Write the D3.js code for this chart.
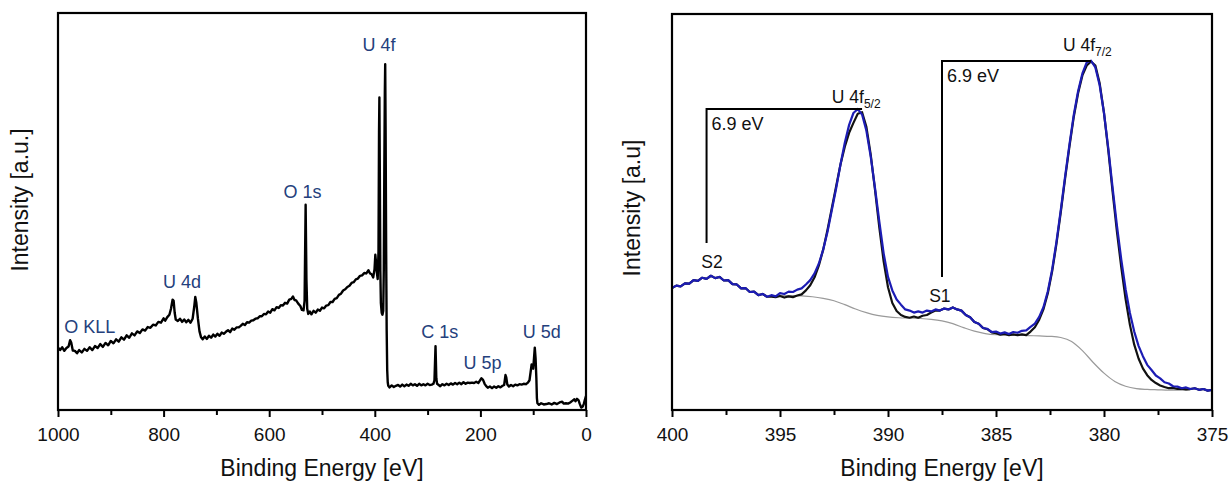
<!DOCTYPE html>
<html>
<head>
<meta charset="utf-8">
<script src="https://cdn.jsdelivr.net/npm/d3@7"></script>
<style>
  html, body { margin: 0; padding: 0; background: #fff; }
  svg { display: block; font-family: Arial, "Liberation Sans", sans-serif; }
</style>
</head>
<body>
<svg id="chart" width="1229" height="484"></svg>
<script>
// ---------- Survey spectrum (left panel) ----------
const surveyBE = [
  1000, 996, 992, 988, 984, 980, 977, 975, 972, 968, 964, 960, 955, 950, 945, 940, 935, 930, 925, 920,
  915, 910, 905, 900, 895, 890, 885, 880, 875, 870, 865, 860, 855, 850, 845, 840, 835, 830, 825, 820,
  815, 810, 805, 800, 797, 793, 789, 786, 783, 781, 779, 777, 773, 769, 765, 761, 757, 753, 749, 745,
  742, 740, 738, 735, 732, 729, 726, 722, 718, 714, 710, 706, 702, 698, 694, 690, 686, 682, 678, 674,
  670, 666, 662, 658, 654, 650, 646, 642, 638, 634, 630, 626, 622, 618, 614, 610, 606, 602, 598, 594,
  590, 586, 582, 578, 574, 570, 566, 562, 558, 555, 552, 549, 545, 541, 538, 535, 533, 531, 529.5, 528,
  526, 523, 520, 516, 512, 508, 504, 500, 496, 492, 488, 484, 480, 476, 472, 468, 464, 460, 456, 452,
  448, 444, 440, 436, 432, 428, 424, 420, 416, 412, 409, 406, 403, 400.5, 399, 397.5, 396, 394.5, 393, 392,
  391.3, 390.5, 389.5, 388.5, 387, 385.5, 384, 383, 382, 381, 380.3, 379.5, 378.5, 377.5, 376.5, 375.5, 374.5, 372, 368, 364,
  360, 356, 352, 348, 344, 340, 336, 332, 328, 324, 320, 316, 312, 308, 304, 300, 296, 292, 289, 287,
  285, 283.5, 282, 279, 276, 272, 268, 264, 260, 256, 252, 248, 244, 240, 236, 232, 228, 224, 220, 216,
  212, 208, 204, 201, 198, 195, 192, 189, 186, 182, 178, 174, 170, 166, 162, 158, 155, 152.5, 151, 149,
  146, 142, 138, 134, 130, 126, 122, 118, 114, 110, 107, 105, 103, 101.5, 100, 98.5, 97, 95.5, 94, 93,
  92, 89, 85, 80, 75, 70, 65, 60, 55, 50, 45, 42, 38, 34, 30, 26, 22, 20, 17, 14,
  12, 9, 6, 4, 2, 0
];
const surveyCounts = [
  15.7, 15.1, 15.8, 14.9, 15.6, 16.0, 17.6, 17.0, 15.0, 14.9, 14.3, 15.1, 14.5, 15.4, 14.9, 15.8, 15.1, 16.1, 15.6, 16.6,
  15.9, 16.9, 16.3, 17.4, 16.8, 17.8, 17.2, 18.3, 17.7, 18.8, 18.2, 19.3, 18.8, 19.8, 19.4, 20.3, 20.0, 20.9, 20.7, 21.5,
  21.3, 22.2, 22.0, 23.1, 22.5, 23.4, 24.0, 25.5, 27.8, 27.5, 24.5, 22.8, 22.4, 23.0, 22.2, 22.8, 22.1, 22.7, 22.0, 23.0,
  26.0, 28.5, 27.0, 23.0, 19.8, 18.3, 17.8, 18.5, 17.9, 18.7, 18.2, 19.0, 18.5, 19.2, 18.7, 19.5, 19.2, 19.7, 20.1, 19.6,
  20.5, 20.2, 20.8, 20.8, 21.2, 21.7, 21.4, 22.1, 22.0, 22.5, 22.6, 23.0, 23.1, 23.6, 23.6, 24.2, 24.1, 24.8, 24.5, 25.4,
  25.1, 25.9, 25.7, 26.4, 26.3, 27.0, 26.8, 27.8, 28.0, 28.6, 27.7, 27.6, 26.8, 26.2, 25.2, 25.1, 27.5, 51.7, 33.0, 25.5,
  24.2, 24.8, 24.1, 25.0, 24.5, 25.3, 25.0, 25.8, 25.6, 26.3, 26.4, 27.2, 27.2, 28.0, 28.2, 29.0, 29.3, 30.1, 30.4, 31.0,
  31.3, 32.0, 32.2, 32.9, 33.1, 33.8, 33.9, 34.5, 34.4, 35.2, 34.4, 34.2, 33.4, 35.5, 39.1, 37.0, 34.5, 33.0, 40.0, 70.0,
  78.7, 60.0, 35.0, 27.0, 24.5, 24.0, 25.0, 35.0, 60.0, 80.0, 87.1, 70.0, 40.0, 20.0, 10.0, 7.0, 6.1, 5.7, 6.2, 5.8,
  6.1, 6.3, 5.9, 6.4, 6.0, 6.4, 6.1, 6.6, 6.2, 6.5, 6.1, 6.6, 6.2, 6.5, 6.2, 6.6, 6.3, 6.4, 6.6, 7.5,
  16.1, 8.0, 6.6, 6.3, 6.0, 6.5, 6.2, 6.6, 6.3, 6.7, 6.4, 6.8, 6.5, 6.9, 6.5, 7.0, 6.6, 6.9, 6.8, 6.9,
  6.8, 7.1, 6.8, 7.4, 8.0, 7.6, 6.6, 6.0, 5.6, 5.9, 5.5, 5.9, 5.6, 6.0, 5.7, 6.1, 6.3, 8.8, 8.2, 6.4,
  5.9, 6.3, 6.0, 6.4, 6.2, 6.5, 6.4, 6.6, 6.5, 6.9, 7.5, 9.5, 11.5, 10.6, 10.4, 13.0, 15.7, 13.0, 8.0, 3.0,
  1.7, 1.3, 1.7, 1.4, 1.5, 1.7, 1.4, 1.8, 1.5, 1.9, 2.1, 1.6, 1.7, 1.6, 1.9, 2.3, 2.7, 2.2, 2.8, 2.4,
  1.6, 0.6, 0.9, 1.6, 2.6, 3.5
];
const surveyTicks = [1000, 800, 600, 400, 200, 0];
const surveyMinorTicks = [900, 700, 500, 300, 100];
const surveyLabels = [
  { text: "U 4f",  be: 392, y: 91.9 },
  { text: "O 1s",  be: 537, y: 55.0 },
  { text: "U 4d",  be: 765, y: 32.2 },
  { text: "O KLL", be: 940, y: 21.1 },
  { text: "C 1s",  be: 277, y: 19.7 },
  { text: "U 5p",  be: 196, y: 11.9 },
  { text: "U 5d",  be: 84,  y: 19.7 }
];

// ---------- U 4f core level (right panel) ----------
const coreBE = [
  400.0, 399.8, 399.6, 399.4, 399.2, 399.0, 398.8, 398.6, 398.4, 398.2,
  398.0, 397.8, 397.6, 397.4, 397.2, 397.0, 396.8, 396.6, 396.4, 396.2,
  396.0, 395.8, 395.6, 395.4, 395.2, 395.0, 394.8, 394.6, 394.4, 394.2,
  394.0, 393.8, 393.6, 393.4, 393.2, 393.0, 392.8, 392.6, 392.4, 392.2,
  392.0, 391.8, 391.6, 391.4, 391.2, 391.0, 390.8, 390.6, 390.4, 390.2,
  390.0, 389.8, 389.6, 389.4, 389.2, 389.0, 388.8, 388.6, 388.4, 388.2,
  388.0, 387.8, 387.6, 387.4, 387.2, 387.0, 386.8, 386.6, 386.4, 386.2,
  386.0, 385.8, 385.6, 385.4, 385.2, 385.0, 384.8, 384.6, 384.4, 384.2,
  384.0, 383.8, 383.6, 383.4, 383.2, 383.0, 382.8, 382.6, 382.4, 382.2,
  382.0, 381.8, 381.6, 381.4, 381.2, 381.0, 380.8, 380.6, 380.4, 380.2,
  380.0, 379.8, 379.6, 379.4, 379.2, 379.0, 378.8, 378.6, 378.4, 378.2,
  378.0, 377.8, 377.6, 377.4, 377.2, 377.0, 376.8, 376.6, 376.4, 376.2,
  376.0, 375.8, 375.6, 375.4, 375.2, 375.0
];
// envelope (blue)
const coreEnvelope = [
  30.8, 31.4, 31.2, 32.0, 31.9, 32.8, 32.6, 33.4, 33.1, 33.9,
  33.3, 33.6, 32.7, 32.8, 31.8, 31.7, 30.7, 30.8, 29.8, 29.9,
  29.0, 29.3, 28.6, 29.0, 28.7, 29.5, 29.3, 29.9, 29.8, 30.4,
  30.7, 31.7, 32.8, 34.5, 37.0, 40.5, 45.0, 50.5, 56.0, 62.0,
  67.5, 72.0, 75.0, 76.0, 74.6, 70.5, 64.0, 56.0, 47.5, 39.5,
  33.6, 30.2, 27.9, 26.6, 25.4, 25.1, 24.6, 24.9, 24.6, 25.1,
  24.9, 25.4, 25.1, 25.6, 25.4, 25.9, 25.4, 25.1, 24.0, 23.4,
  22.2, 21.8, 20.7, 20.5, 19.7, 19.8, 19.3, 19.6, 19.2, 19.7,
  19.5, 20.0, 20.1, 21.0, 21.8, 23.5, 26.0, 30.0, 35.5, 42.5,
  50.5, 59.0, 67.0, 74.5, 80.5, 85.0, 87.8, 88.2, 86.5, 82.0,
  75.0, 66.0, 56.0, 46.5, 38.0, 30.5, 24.5, 19.8, 16.2, 13.6,
  11.4, 10.1, 8.7, 8.0, 7.0, 6.7, 6.0, 5.9, 5.5, 5.7,
  5.3, 5.5, 5.1, 5.3, 4.9, 5.1
];
// measured spectrum (black)
const coreMeasured = [
  30.8, 31.4, 31.2, 32.0, 31.9, 32.8, 32.6, 33.4, 33.1, 33.9,
  33.3, 33.6, 32.7, 32.8, 31.8, 31.7, 30.7, 30.8, 29.8, 29.9,
  29.0, 29.3, 28.6, 28.6, 28.5, 28.8, 28.4, 28.7, 28.5, 28.9,
  29.2, 30.2, 31.5, 33.5, 36.5, 40.5, 45.5, 51.0, 56.5, 62.0,
  66.5, 70.0, 72.5, 74.8, 75.2, 71.5, 64.5, 55.5, 46.0, 37.5,
  31.0, 27.0, 25.0, 24.0, 23.5, 23.3, 23.6, 23.3, 23.8, 24.0,
  24.6, 25.1, 25.1, 25.6, 25.4, 25.9, 25.4, 25.1, 24.0, 23.4,
  22.2, 21.8, 20.7, 20.4, 19.6, 19.4, 19.0, 19.2, 18.9, 19.1,
  18.9, 19.1, 18.9, 19.8, 20.9, 22.8, 25.5, 29.5, 35.0, 42.0,
  50.0, 58.5, 66.5, 74.0, 80.0, 84.5, 87.0, 88.0, 87.0, 82.5,
  75.0, 65.5, 55.0, 45.0, 36.0, 28.0, 21.5, 16.5, 13.0, 10.5,
  8.8, 7.6, 6.8, 6.2, 5.8, 5.5, 5.6, 5.3, 5.4, 5.2,
  5.3, 5.5, 5.1, 5.3, 4.9, 5.1
];
// Shirley background (grey)
const shirleyBE = [
  395.4, 395.0, 394.5, 394.0, 393.5, 393.0, 392.5, 392.0, 391.5, 391.0,
  390.5, 390.0, 389.5, 389.0, 388.5, 388.0, 387.5, 387.0, 386.5, 386.0,
  385.5, 385.0, 384.5, 384.0, 383.5, 383.0, 382.5, 382.0, 381.5, 381.0,
  380.5, 380.0, 379.5, 379.0, 378.5, 378.0, 377.5, 377.0, 376.0
];
const shirleyCounts = [
  28.9, 28.9, 28.9, 28.8, 28.6, 28.2, 27.6, 26.6, 25.5, 24.6,
  23.9, 23.5, 23.3, 23.2, 23.1, 22.9, 22.5, 21.8, 20.8, 19.9,
  19.3, 19.0, 18.9, 18.9, 18.8, 18.7, 18.6, 18.3, 17.3, 15.0,
  12.0, 9.3, 7.2, 6.0, 5.4, 5.2, 5.1, 5.0, 5.0
];
const coreTicks = [400, 395, 390, 385, 380, 375];
const coreMinorTicks = [397.5, 392.5, 387.5, 382.5, 377.5];
const splitMarks = [
  { left: 398.4, right: 391.2, top: 76.0, bottom: 42.2, text: "6.9 eV" },
  { left: 387.5, right: 380.6, top: 88.1, bottom: 33.6, text: "6.9 eV" }
];
const coreLabels = [
  { main: "U 4f", sub: "5/2", be: 392.6, y: 79.0, anchor: "start" },
  { main: "U 4f", sub: "7/2", be: 381.9, y: 92.2, anchor: "start" },
  { main: "S2",   sub: "",    be: 398.15, y: 37.4, anchor: "middle" },
  { main: "S1",   sub: "",    be: 387.6, y: 28.8, anchor: "middle" }
];

// ---------- drawing ----------
const svg = d3.select("#chart");

function drawFrame(opts) {
  const g = svg.append("g");
  const x = d3.scaleLinear().domain(opts.xDomain).range([opts.left, opts.right]);
  const y = d3.scaleLinear().domain([0, 100]).range([opts.bottom, opts.top]);

  const minor = d3.axisBottom(x).tickValues(opts.minorTicks).tickSize(5).tickFormat("");
  g.append("g").attr("transform", `translate(0,${opts.bottom})`).call(minor)
    .call(s => s.select(".domain").remove())
    .call(s => s.selectAll("line").attr("stroke", "#000").attr("stroke-width", 2));

  const major = d3.axisBottom(x).tickValues(opts.ticks).tickSize(7).tickPadding(11)
    .tickFormat(d3.format("d"));
  g.append("g").attr("transform", `translate(0,${opts.bottom})`).call(major)
    .call(s => s.select(".domain").remove())
    .call(s => s.selectAll("line").attr("stroke", "#000").attr("stroke-width", 2))
    .call(s => s.selectAll("text").attr("fill", "#111").style("font-size", "19px")
      .style("font-family", "Arial, 'Liberation Sans', sans-serif"));

  g.append("text")
    .attr("x", (opts.left + opts.right) / 2).attr("y", opts.bottom + 66)
    .attr("text-anchor", "middle").attr("fill", "#111")
    .style("font-size", "23px").text("Binding Energy [eV]");

  g.append("text")
    .attr("transform", `translate(${opts.yLabelX},${opts.yLabelY}) rotate(-90)`)
    .attr("text-anchor", "middle").attr("fill", "#111")
    .style("font-size", "23px").text(opts.yTitle);

  const clipId = opts.id + "-clip";
  svg.append("clipPath").attr("id", clipId).append("rect")
    .attr("x", opts.left).attr("y", opts.top)
    .attr("width", opts.right - opts.left).attr("height", opts.bottom - opts.top);
  const plot = g.append("g").attr("clip-path", `url(#${clipId})`);

  return { g, plot, x, y, opts };
}

function drawBorder(p) {
  const o = p.opts;
  p.g.append("rect")
    .attr("x", o.left).attr("y", o.top)
    .attr("width", o.right - o.left).attr("height", o.bottom - o.top)
    .attr("fill", "none").attr("stroke", "#000").attr("stroke-width", 2.2);
}

// Left: survey
const survey = drawFrame({
  id: "survey", xDomain: [1000, 0], left: 58, right: 586, top: 13, bottom: 410,
  ticks: surveyTicks, minorTicks: surveyMinorTicks,
  yTitle: "Intensity [a.u.]", yLabelX: 28, yLabelY: 200
});
const surveyLine = d3.line()
  .x((d, i) => survey.x(surveyBE[i]))
  .y(d => survey.y(d));
survey.plot.append("path").datum(surveyCounts)
  .attr("d", surveyLine).attr("fill", "none")
  .attr("stroke", "#000").attr("stroke-width", 2.4).attr("stroke-linejoin", "round");
drawBorder(survey);
survey.g.selectAll("text.peak").data(surveyLabels).join("text")
  .attr("class", "peak")
  .attr("x", d => survey.x(d.be)).attr("y", d => survey.y(d.y))
  .attr("dy", "0.35em").attr("text-anchor", "middle")
  .attr("fill", "#24407c").style("font-size", "18px")
  .text(d => d.text);

// Right: U 4f detail
const core = drawFrame({
  id: "core", xDomain: [400, 375], left: 672, right: 1212, top: 14, bottom: 410,
  ticks: coreTicks, minorTicks: coreMinorTicks,
  yTitle: "Intensity [a.u]", yLabelX: 640, yLabelY: 208
});
const bgLine = d3.line().x((d, i) => core.x(shirleyBE[i])).y(d => core.y(d)).curve(d3.curveMonotoneX);
core.plot.append("path").datum(shirleyCounts)
  .attr("d", bgLine).attr("fill", "none").attr("stroke", "#9a9a9a").attr("stroke-width", 1.2);
const coreLine = d3.line().x((d, i) => core.x(coreBE[i])).y(d => core.y(d));
core.plot.append("path").datum(coreMeasured)
  .attr("d", coreLine).attr("fill", "none").attr("stroke", "#111")
  .attr("stroke-width", 2.2).attr("stroke-linejoin", "round");
core.plot.append("path").datum(coreEnvelope)
  .attr("d", coreLine).attr("fill", "none").attr("stroke", "#1c1cb4")
  .attr("stroke-width", 2.2).attr("stroke-linejoin", "round");
drawBorder(core);

// spin-orbit splitting brackets
splitMarks.forEach(m => {
  core.g.append("path")
    .attr("d", `M${core.x(m.left)},${core.y(m.bottom)}V${core.y(m.top)}H${core.x(m.right)}`)
    .attr("fill", "none").attr("stroke", "#000").attr("stroke-width", 2);
  core.g.append("text")
    .attr("x", core.x(m.left) + 5).attr("y", core.y(m.top) + 15)
    .attr("dy", "0.35em").attr("fill", "#111").style("font-size", "18px")
    .text(m.text);
});

coreLabels.forEach(l => {
  const t = core.g.append("text")
    .attr("x", core.x(l.be)).attr("y", core.y(l.y))
    .attr("dy", "0.35em").attr("text-anchor", l.anchor)
    .attr("fill", "#111").style("font-size", "17.5px");
  t.append("tspan").text(l.main);
  if (l.sub) {
    t.append("tspan").attr("dy", "5").style("font-size", "12px").text(l.sub);
  }
});
</script>
</body>
</html>
